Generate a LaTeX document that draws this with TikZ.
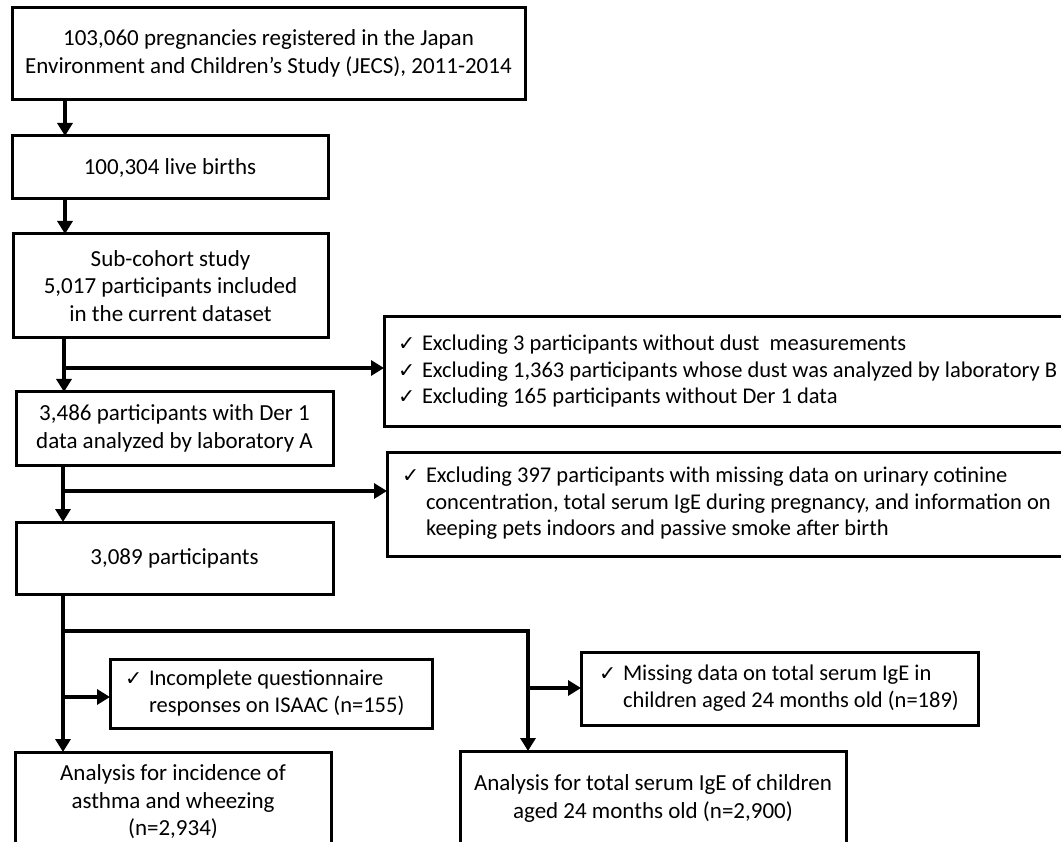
\documentclass[tikz,border=0pt]{standalone}
\usepackage{fontspec}
\setmainfont{Carlito}
\newfontfamily\dejavu{DejaVu Sans}
\usetikzlibrary{arrows.meta}
\newcommand\ckm{\makebox[24pt][l]{\dejavu\fontsize{20.5}{20.5}\selectfont ✓}}
\newcommand\ind{\hspace*{24pt}}
\newcommand\lcell[2]{\makebox[#1][l]{\begin{tabular}{@{}l@{}}#2\end{tabular}}}
\begin{document}
\begin{tikzpicture}[x=1pt,y=-1pt,
  box/.style={draw,line width=3pt,anchor=north west,inner sep=0pt,outer sep=0pt,
    align=center,font=\fontsize{23}{27.5}\selectfont},
  lbox/.style={box,font=\fontsize{22.5}{26.5}\selectfont},
  conn/.style={line width=4.5pt},
  arr/.style={conn,-{Triangle[width=15pt,length=13pt]}}]
\useasboundingbox (0,0) rectangle (1061,842);
\fill[white] (0,0) rectangle (1061,842);
\clip (0,0) rectangle (1061,842);

\node[box,minimum width=513pt,minimum height=92pt] (b1) at (12,8)
  {\raisebox{-2pt}{\begin{tabular}{@{}c@{}}103,060 pregnancies registered in the Japan\\Environment and Children’s Study (JECS), 2011-2014\end{tabular}}};
\node[box,minimum width=316pt,minimum height=63pt] (b2) at (12,136) {100,304 live births};
\node[box,minimum width=315pt,minimum height=104pt] (b3) at (13,234)
  {Sub-cohort study\\5,017 participants included\\ in the current dataset};
\node[box,minimum width=317pt,minimum height=73pt] (b4) at (16,392)
  {3,486 participants with Der 1\\data analyzed by laboratory A};
\node[box,minimum width=317pt,minimum height=72pt] (b5) at (16,522) {3,089 participants};
\node[box,minimum width=316pt,minimum height=100pt] (a1) at (15,752)
  {Analysis for incidence of\\asthma and wheezing\\(n=2,934)};
\node[box,minimum width=386pt,minimum height=95pt] (a2) at (460,751)
  {Analysis for total serum IgE of children\\aged 24 months old (n=2,900)};

\node[lbox,minimum width=679pt,minimum height=110pt] (e1) at (384,317)
  {\lcell{651pt}{\ckm Excluding 3 participants without dust\ \ measurements\\
   \ckm Excluding 1,363 participants whose dust was analyzed by laboratory B\\
   \ckm Excluding 165 participants without Der 1 data}};
\node[lbox,minimum width=676pt,minimum height=104pt] (e2) at (387,452)
  {\lcell{646pt}{\ckm Excluding 397 participants with missing data on urinary cotinine\\
   \ind concentration, total serum IgE during pregnancy, and information on\\
   \ind keeping pets indoors and passive smoke after birth}};
\node[lbox,minimum width=322pt,minimum height=69pt] (i1) at (110,659)
  {\lcell{292pt}{\ckm Incomplete questionnaire\\ \ind responses on ISAAC (n=155)}};
\node[lbox,minimum width=397pt,minimum height=73pt] (i2) at (581,652)
  {\lcell{361pt}{\ckm Missing data on total serum IgE in\\ \ind children aged 24 months old (n=189)}};

\coordinate (v1) at (65,0);
\coordinate (v2) at (64,0);
\coordinate (v3) at (63,0);
\coordinate (v4) at (528,0);
\coordinate (h1) at (0,368);
\coordinate (h2) at (0,491);
\coordinate (h3) at (0,631);
\coordinate (h4) at (0,697);
\coordinate (h5) at (0,688);

\draw[arr] (v1 |- b1.south) -- (v1 |- b2.north);
\draw[arr] (v1 |- b2.south) -- (v1 |- b3.north);
\draw[arr] (v2 |- b3.south) -- (v2 |- b4.north);
\draw[arr] (v2 |- h1) -- (e1.west |- h1);
\draw[arr] (v3 |- b4.south) -- (v3 |- b5.north);
\draw[arr] (v3 |- h2) -- (e2.west |- h2);
\draw[arr] (v3 |- b5.south) -- (v3 |- a1.north);
\draw[arr] (v3 |- h3) -- (v4 |- h3) -- (v4 |- a2.north);
\draw[arr] (v3 |- h4) -- (i1.west |- h4);
\draw[arr] (v4 |- h5) -- (i2.west |- h5);
\end{tikzpicture}
\end{document}
